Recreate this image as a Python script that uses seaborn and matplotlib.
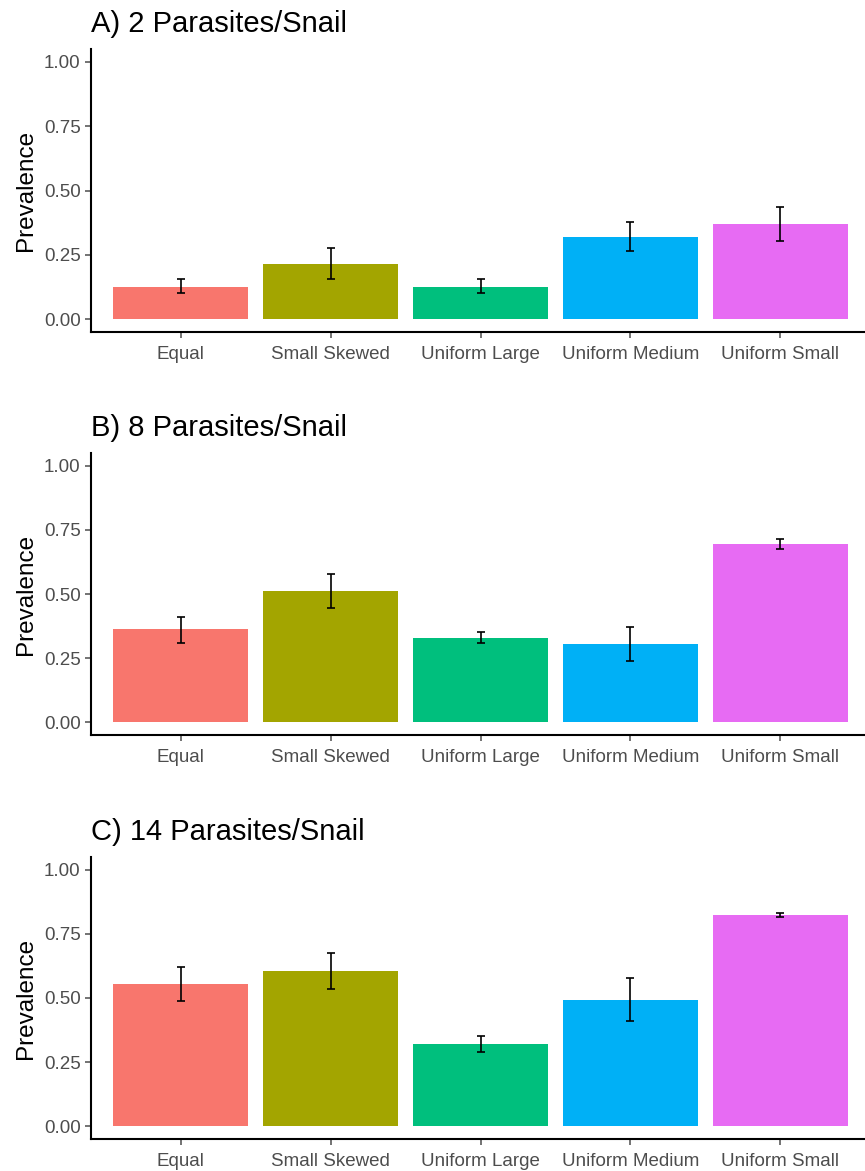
import matplotlib
matplotlib.use("Agg")
import matplotlib.pyplot as plt
import seaborn as sns
import pandas as pd

categories = ["Equal", "Small Skewed", "Uniform Large", "Uniform Medium", "Uniform Small"]
palette = ["#F8766D", "#A3A500", "#00BF7D", "#00B0F6", "#E76BF3"]

panel_titles = ["A) 2 Parasites/Snail", "B) 8 Parasites/Snail", "C) 14 Parasites/Snail"]

# mean prevalence per scenario
prev_2 = [0.123, 0.215, 0.125, 0.320, 0.370]
prev_8 = [0.362, 0.511, 0.329, 0.305, 0.695]
prev_14 = [0.554, 0.605, 0.319, 0.494, 0.825]

# error bar limits
low_2 = [0.100, 0.155, 0.100, 0.264, 0.305]
high_2 = [0.156, 0.276, 0.155, 0.378, 0.435]
low_8 = [0.310, 0.445, 0.310, 0.240, 0.675]
high_8 = [0.412, 0.577, 0.350, 0.370, 0.714]
low_14 = [0.489, 0.536, 0.288, 0.409, 0.815]
high_14 = [0.620, 0.675, 0.350, 0.579, 0.833]

panels = [
    (panel_titles[0], prev_2, low_2, high_2),
    (panel_titles[1], prev_8, low_8, high_8),
    (panel_titles[2], prev_14, low_14, high_14),
]

sns.set_theme(style="ticks")
plt.rcParams["font.family"] = ["Liberation Sans", "DejaVu Sans"]

fig = plt.figure(figsize=(8.65, 11.71), dpi=100)
W, H = 865, 1171
# (top, bottom) pixel rows of each panel
rows = [(49, 332), (453, 735), (857, 1139)]
left_px, right_px = 91, 870

for (title, prev, lo, hi), (top, bot) in zip(panels, rows):
    ax = fig.add_axes([left_px / W, 1 - bot / H, (right_px - left_px) / W, (bot - top) / H])
    df = pd.DataFrame({"scenario": categories, "prevalence": prev})
    sns.barplot(data=df, x="scenario", y="prevalence", hue="scenario",
                palette=palette, width=0.9, ax=ax, legend=False,
                errorbar=None, saturation=1, edgecolor="none")
    x = list(range(len(categories)))
    yerr = [[p - l for p, l in zip(prev, lo)], [h - p for p, h in zip(prev, hi)]]
    ax.errorbar(x, prev, yerr=yerr, fmt="none", ecolor="black",
                elinewidth=1.2, capsize=3, capthick=1.2)
    ax.set_xlim(-0.6, len(categories) - 0.4)
    ax.set_ylim(-0.05, 1.05)
    ax.set_yticks([0, 0.25, 0.5, 0.75, 1.0])
    ax.set_yticklabels(["0.00", "0.25", "0.50", "0.75", "1.00"])
    ax.set_xlabel("")
    ax.set_ylabel("Prevalence", fontsize=17.5, color="black", labelpad=5)
    ax.set_title(title, loc="left", fontsize=21, pad=12.5, color="black")
    ax.tick_params(axis="both", labelsize=13.5, colors="#4D4D4D", length=4, width=1.1)
    ax.tick_params(axis="x", pad=6)
    for s in ["left", "bottom"]:
        ax.spines[s].set_linewidth(1.5)
        ax.spines[s].set_color("black")
    ax.spines["top"].set_visible(False)
    ax.spines["right"].set_visible(False)
    ax.set_facecolor("white")

fig.savefig("out.png", dpi=100, facecolor="white")
